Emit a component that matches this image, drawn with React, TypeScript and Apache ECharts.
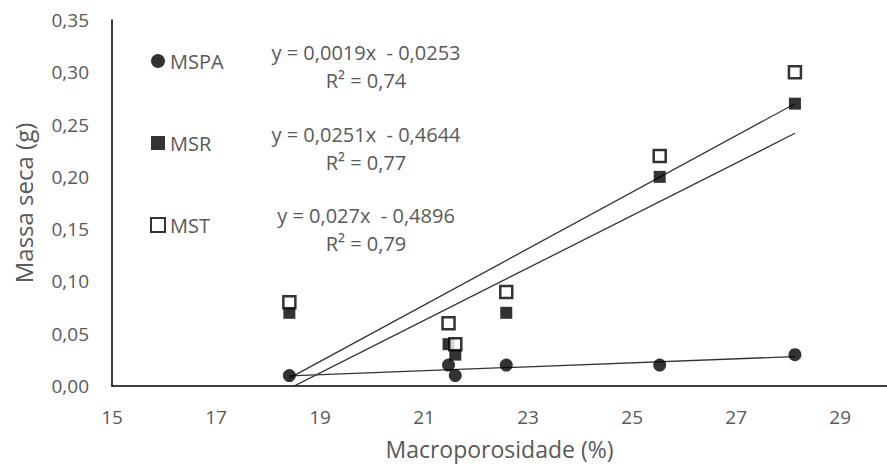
import React, { useEffect, useRef } from "react";
import * as echarts from "echarts";

const macroporosidade = [18.41, 21.47, 21.6, 22.58, 25.53, 28.13];
const mspa = [0.01, 0.02, 0.01, 0.02, 0.02, 0.03];
const msr = [0.07, 0.04, 0.03, 0.07, 0.2, 0.27];
const mst = [0.08, 0.06, 0.04, 0.09, 0.22, 0.3];

const seriesNames = ["MSPA", "MSR", "MST"];
// trend line coefficients [slope, intercept] as shown in the chart
const trendCoefs = [
  [0.0019, -0.0253],
  [0.0251, -0.4644],
  [0.027, -0.4896],
];
const equationLabels = [
  ["y = 0,0019x  - 0,0253", "R² = 0,74"],
  ["y = 0,0251x  - 0,4644", "R² = 0,77"],
  ["y = 0,027x  - 0,4896", "R² = 0,79"],
];
const xTickLabels = [15, 17, 19, 21, 23, 25, 27, 29];

const FONT = "'Open Sans', sans-serif";
const GRAY = "#595959";

export default function App() {
  const ref = useRef<HTMLDivElement>(null);
  useEffect(() => {
    document.body.style.margin = "0";
    if (!ref.current) return;
    const chart = echarts.init(ref.current, undefined, { renderer: "svg" });
    const xMin = Math.min(...macroporosidade);
    const xMax = Math.max(...macroporosidade);
    const trend = (i: number) => {
      const [a, b] = trendCoefs[i];
      return [
        [xMin, a * xMin + b],
        [xMax, a * xMax + b],
      ];
    };
    const pts = (ys: number[]) => macroporosidade.map((x, i) => [x, ys[i]]);
    const eqY = [52, 134, 215];
    const graphics: any[] = [];
    equationLabels.forEach((lines, i) => {
      lines.forEach((t, j) => {
        graphics.push({
          type: "text",
          x: 366,
          y: eqY[i] + j * 28,
          style: {
            text: t,
            fill: GRAY,
            font: `20px ${FONT}`,
            textAlign: "center",
            textVerticalAlign: "middle",
          },
        });
      });
    });
    chart.setOption({
      animation: false,
      backgroundColor: "#fff",
      textStyle: { fontFamily: FONT },
      grid: { left: 112, right: 0, top: 20, bottom: 89 },
      legend: {
        orient: "vertical",
        left: 145,
        top: 46,
        itemGap: 62,
        itemWidth: 14,
        itemHeight: 14,
        textStyle: { color: GRAY, fontSize: 20, fontFamily: FONT },
        data: seriesNames,
      },
      xAxis: {
        type: "value",
        min: 15,
        max: 29.9,
        name: "Macroporosidade (%)",
        nameLocation: "middle",
        nameGap: 51,
        nameTextStyle: { color: GRAY, fontSize: 23, fontFamily: FONT },
        axisLine: { show: true, lineStyle: { color: "#000", width: 1.5 } },
        axisTick: { show: false },
        splitLine: { show: false },
        axisLabel: {
          customValues: xTickLabels,
          color: GRAY,
          fontSize: 19,
          margin: 21,
          fontFamily: FONT,
        },
      },
      yAxis: {
        type: "value",
        min: 0,
        max: 0.35,
        interval: 0.05,
        name: "Massa seca (g)",
        nameLocation: "middle",
        nameGap: 77,
        nameTextStyle: { color: GRAY, fontSize: 24, fontFamily: FONT },
        axisLine: { show: true, lineStyle: { color: "#000", width: 1.5 } },
        axisTick: { show: false },
        splitLine: { show: false },
        axisLabel: {
          color: GRAY,
          fontSize: 19,
          margin: 23,
          fontFamily: FONT,
          formatter: (v: number) => v.toFixed(2).replace(".", ","),
        },
      },
      series: [
        ...[0, 1, 2].map((i) => ({
          type: "line",
          data: trend(i),
          symbol: "none",
          clip: true,
          silent: true,
          z: 1,
          lineStyle: { color: "#333", width: 1.3 },
        })),
        {
          name: "MSPA",
          type: "scatter",
          data: pts(mspa),
          symbol: "circle",
          symbolSize: 13,
          z: 3,
          itemStyle: { color: "#000" },
        },
        {
          name: "MSR",
          type: "scatter",
          data: pts(msr),
          symbol: "rect",
          symbolSize: 12,
          z: 3,
          itemStyle: { color: "#000" },
        },
        {
          name: "MST",
          type: "scatter",
          data: pts(mst),
          symbol: "rect",
          symbolSize: 12,
          z: 4,
          itemStyle: { color: "#fff", borderColor: "#000", borderWidth: 2.5 },
        },
      ],
      graphic: graphics,
    });
    return () => chart.dispose();
  }, []);
  return <div ref={ref} style={{ width: 887, height: 475 }} />;
}
